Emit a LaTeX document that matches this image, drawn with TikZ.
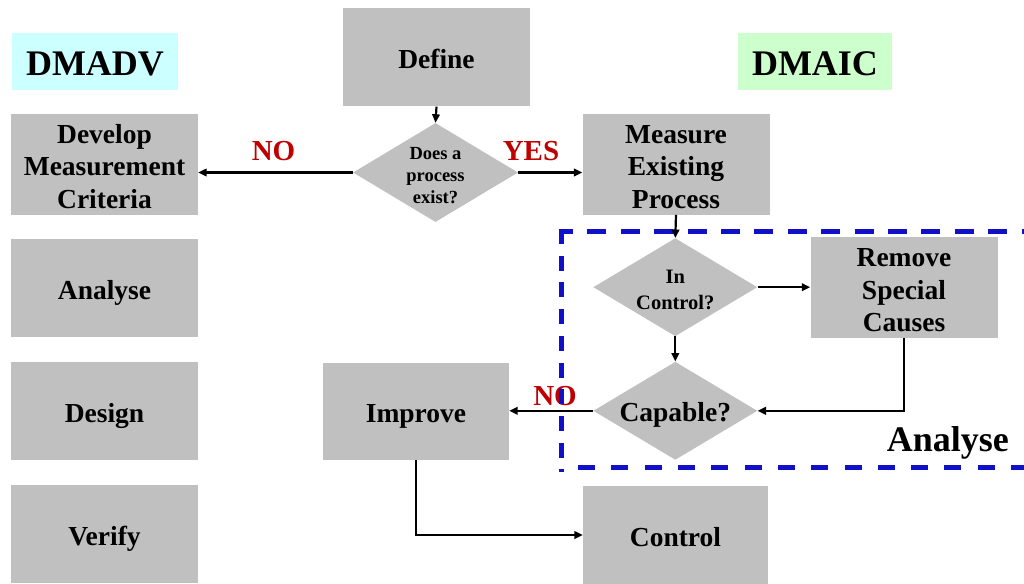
\documentclass[tikz,border=0pt]{standalone}
\usepackage{fontspec}
\setmainfont{Liberation Serif}
\usetikzlibrary{shapes.geometric,arrows.meta}
\definecolor{boxgray}{HTML}{C0C0C0}
\definecolor{tagcyan}{HTML}{CCFFFF}
\definecolor{taggreen}{HTML}{CCFFCC}
\definecolor{ansred}{HTML}{C00000}
\definecolor{zoneblue}{RGB}{16,16,200}
% struts that fix where the first baseline and last descent sit in a node
\newcommand{\topstrut}[1]{\rule{0pt}{#1}}
\newcommand{\botstrut}[1]{\rule[-#1]{0pt}{#1}}
\newcommand{\boxtop}{\topstrut{29.5pt}}
\tikzset{
  box/.style={fill=boxgray, inner sep=0pt, align=center,
    font=\bfseries\fontsize{27.5}{32.5}\selectfont,
    execute at begin node={\topstrut{29.5pt}},
    execute at end node={\botstrut{6.5pt}}},
  tag/.style={inner sep=0pt, font=\bfseries\fontsize{36}{40}\selectfont,
    execute at begin node={\topstrut{36pt}},
    execute at end node={\botstrut{8pt}}},
  dia/.style={diamond, fill=boxgray, inner sep=0pt},
  diatext/.style={align=center, inner sep=0pt},
  flow/.style={line width=2.2pt, -{Triangle[length=8.5pt,width=7.5pt]}},
  ans/.style={text=ansred, inner sep=0pt, font=\bfseries\fontsize{29}{30}\selectfont},
  zoneline/.style={draw=zoneblue, line width=4.8pt}
}
\begin{document}
\begin{tikzpicture}[x=1pt,y=-1pt]
\path[use as bounding box] (0,0) rectangle (1024,583);
\clip (0,0) rectangle (1024,583);

% method tags
\node[tag, fill=tagcyan, minimum width=166pt, minimum height=57pt] (dmadv) at (95,61.5) {DMADV};
\node[tag, fill=taggreen, minimum width=154pt, minimum height=57pt] (dmaic) at (815,61.5) {DMAIC};

% process boxes
\node[box, minimum width=187pt, minimum height=98pt] (define) at (436.5,57.5) {Define};
\node[box, minimum width=187pt, minimum height=98pt] (develop) at (104.5,164.2) {\boxtop Develop\\Measurement\\Criteria};
\node[box, minimum width=187pt, minimum height=98pt] (measure) at (676,164.2) {\boxtop Measure\\Existing\\Process};
\node[box, minimum width=187pt, minimum height=98pt] (analyse) at (104.5,287.5) {Analyse};
\node[box, minimum width=187pt, minimum height=98pt] (design) at (104.5,411) {Design};
\node[box, minimum width=187pt, minimum height=98pt] (verify) at (104.5,534) {Verify};
\node[box, minimum width=187pt, minimum height=98pt] (remove) at (904,287.5) {\boxtop Remove\\Special\\Causes};
\node[box, minimum width=186pt, minimum height=97pt] (improve) at (416,411.3) {Improve};
\node[box, minimum width=185pt, minimum height=98pt] (control) at (675.5,535) {Control};

% decisions
\node[dia, minimum width=165pt, minimum height=99pt,
  label={[diatext, font=\bfseries\fontsize{18.5}{22}\selectfont]
    center:\topstrut{22pt}Does a\\process\\exist?\botstrut{5pt}}]
  (exists) at (435.5,172.5) {};
\node[dia, minimum width=164pt, minimum height=98pt,
  label={[diatext, font=\bfseries\fontsize{20.5}{26}\selectfont]
    center:\topstrut{22pt}In\\Control?\botstrut{3.4pt}}]
  (inctrl) at (675.3,287.2) {};
\node[dia, minimum width=164pt, minimum height=98pt,
  label={[diatext, font=\bfseries\fontsize{27.5}{32.5}\selectfont]
    center:\topstrut{28.3pt}Capable?\botstrut{6.5pt}}]
  (capable) at (675.3,410.8) {};

% answers
\node[ans] (no1) at (273.5,151) {NO};
\node[ans] (yes) at (531,151) {YES};
\node[ans] (no2) at (555,396) {NO};

% analyse zone, dashed frame running off the right edge
\coordinate (zonetl) at (559.5,231.5);
\coordinate (zonebl) at (561.8,467.5);
\coordinate (zonetop) at (561.8,229);
\draw[zoneline, dash pattern=on 19pt off 14.4pt, dash phase=5.5pt]
  (zonetl) -- (1040,231.5);
\draw[zoneline, dash pattern=on 15pt off 11.7pt]
  (zonetop) -- (zonebl |- 0,472);
\draw[zoneline, dash pattern=on 17pt off 16.3pt, dash phase=17pt]
  (zonebl) -- (1040,467.5);
\node[inner sep=0pt, anchor=base east, font=\bfseries\fontsize{36}{40}\selectfont]
  (zonelabel) at (1009,451.7) {Analyse};

% connectors
\draw[flow] (define.south) -- (exists.north);
\draw[flow] (exists.west) -- (exists.west -| develop.east);
\draw[flow] (exists.east) -- (exists.east -| measure.west);
\draw[flow] (measure.south) -- (inctrl.north);
\draw[flow] (inctrl.east) -- (inctrl.east -| remove.west);
\draw[flow] (inctrl.south) -- (capable.north);
\draw[flow] (remove.south) |- (capable.east);
\draw[flow] (capable.west) -- (capable.west -| improve.east);
\draw[flow] (improve.south) |- (control.west);
\end{tikzpicture}
\end{document}
